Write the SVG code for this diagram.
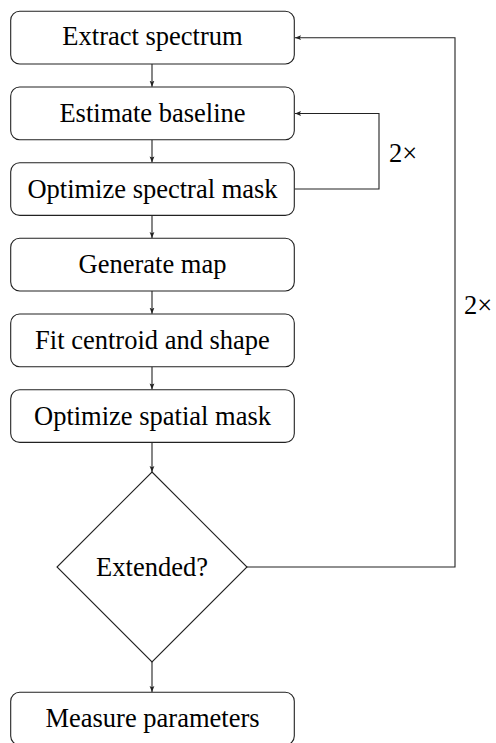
<svg xmlns="http://www.w3.org/2000/svg" width="496" height="743" viewBox="0 0 496 743">
<style>
.box{fill:#fff;stroke:#222;stroke-width:1.1}
.t{fill:#000;text-anchor:middle}
.c{fill:none;stroke:#222;stroke-width:1.1}
</style>
<defs>
<marker id="ah" viewBox="0 0 6 6" refX="6" refY="3" markerWidth="6" markerHeight="6" markerUnits="userSpaceOnUse" orient="auto">
<path d="M0,0.6 L6,3 L0,5.4 L1.2,3 Z" fill="#222"/>
</marker>
</defs>
<g id="connectors" font-family="Liberation Serif, Times New Roman, serif" font-size="26.5">
<line class="c" x1="152" y1="64" x2="152" y2="86.7" marker-end="url(#ah)"/>
<line class="c" x1="152" y1="139.7" x2="152" y2="162.4" marker-end="url(#ah)"/>
<line class="c" x1="152" y1="215.4" x2="152" y2="238" marker-end="url(#ah)"/>
<line class="c" x1="152" y1="291" x2="152" y2="313.7" marker-end="url(#ah)"/>
<line class="c" x1="152" y1="366.7" x2="152" y2="389.4" marker-end="url(#ah)"/>
<line class="c" x1="152" y1="442.4" x2="152" y2="472" marker-end="url(#ah)"/>
<line class="c" x1="152" y1="662" x2="152" y2="692" marker-end="url(#ah)"/>
<polyline class="c" points="294.5,189 379,189 379,113.5 295,113.5" marker-end="url(#ah)"/>
<polyline class="c" points="247,567 455,567 455,37.7 295,37.7" marker-end="url(#ah)"/>
<text x="389" y="162">2×</text>
<text x="464" y="314">2×</text>
</g>
<g font-family="Liberation Serif, Times New Roman, serif" font-size="26.5">
<g id="n1"><rect class="box" x="10.7" y="11.3" width="283.6" height="52.7" rx="9"/><text class="t" x="152.5" y="45">Extract spectrum</text></g>
<g id="n2"><rect class="box" x="10.7" y="87" width="283.6" height="52.7" rx="9"/><text class="t" x="152.5" y="122.3">Estimate baseline</text></g>
<g id="n3"><rect class="box" x="10.7" y="162.7" width="283.6" height="52.7" rx="9"/><text class="t" x="152.5" y="197.5">Optimize spectral mask</text></g>
<g id="n4"><rect class="box" x="10.7" y="238.3" width="283.6" height="52.7" rx="9"/><text class="t" x="152.5" y="273">Generate map</text></g>
<g id="n5"><rect class="box" x="10.7" y="314" width="283.6" height="52.7" rx="9"/><text class="t" x="152.5" y="349">Fit centroid and shape</text></g>
<g id="n6"><rect class="box" x="10.7" y="389.7" width="283.6" height="52.7" rx="9"/><text class="t" x="152.5" y="424.5">Optimize spatial mask</text></g>
<g id="n7"><polygon class="box" points="152,472 247,567 152,662 57,567"/><text class="t" x="152" y="576">Extended?</text></g>
<g id="n8"><rect class="box" x="10.7" y="692.3" width="283.6" height="52.7" rx="9"/><text class="t" x="152.5" y="727">Measure parameters</text></g>
</g>
</svg>
